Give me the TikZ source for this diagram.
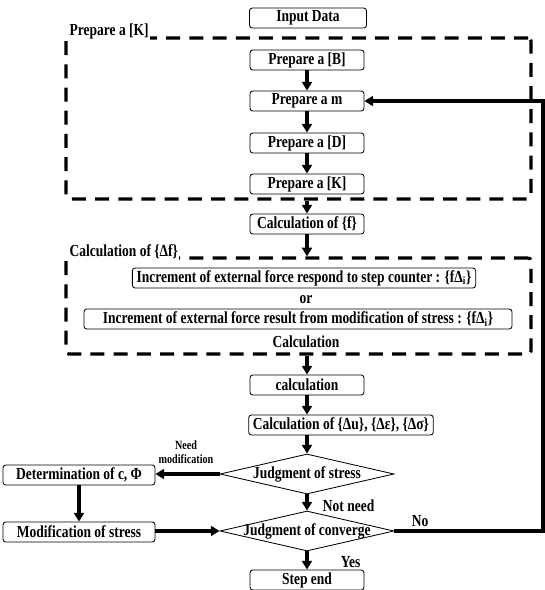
\documentclass[tikz,border=0pt]{standalone}
\usepackage{fontspec}
\setmainfont{Liberation Serif}[FakeStretch=0.8]
\usetikzlibrary{arrows.meta,shapes.geometric,fit}

\begin{document}
\begin{tikzpicture}[x=0.25mm,y=-0.25mm]
        \tikzset{every node/.style={font=\fontsize{12}{13}\selectfont\bfseries},
          stepbox/.style={draw, rounded corners=2pt, line width=0.6pt, minimum width=28.5mm, minimum height=5mm, inner xsep=3pt, inner ysep=1pt},
          judge/.style={draw, diamond, line width=0.6pt, aspect=4.35, inner xsep=-12mm, inner ysep=0pt, minimum width=43.5mm, minimum height=10mm},
          groupbox/.style={draw, line width=2.3pt, rounded corners=2pt, dash pattern=on 3.5mm off 2.3mm, inner sep=0pt},
          grouplabel/.style={fill=white, inner sep=1pt, anchor=base west},
          flow/.style={-{Triangle[length=2.2mm, width=2.5mm]}, line width=2.2pt}}
        \useasboundingbox (0,0) rectangle (545,590);
        
        % input and preparation of [K]
        \node[stepbox, minimum width=29.25mm] (input) at (308,18) {Input Data};
        \coordinate (k1) at (66,38);
        \coordinate (k2) at (531,199);
        \node[groupbox, fit=(k1)(k2)] (grpK) {};
        \node[grouplabel] (lblK) at (68,36) {Prepare a [K]};
        \node[stepbox] (pB) at (307,60) {Prepare a [B]};
        \node[stepbox] (pm) at (307,101) {Prepare a m};
        \node[stepbox] (pD) at (307,143) {Prepare a [D]};
        \node[stepbox] (pK) at (307,184) {Prepare a [K]};
        \draw[flow] (pB) -- (pm);
        \draw[flow] (pm) -- (pD);
        \draw[flow] (pD) -- (pK);
        
        % calculation of {f} and {Δf}
        \node[stepbox] (calcf) at (307,224) {Calculation of \{f\}};
        \coordinate (f1) at (66,258);
        \coordinate (f2) at (531,354);
        \node[groupbox, fit=(f1)(f2)] (grpF) {};
        \node[grouplabel] (lblF) at (68,256) {Calculation of \{Δf\}};
        \node[stepbox, minimum width=85mm] (incA) at (304,278) {Increment of external force respond to step counter : \{fΔ\textsubscript{i}\}};
        \node (orlbl) at (306,300) {or};
        \node[stepbox, minimum width=107mm] (incB) at (298,319) {Increment of external force result from modification of stress : \{fΔ\textsubscript{i}\}};
        \node (calclbl) at (306,342) {Calculation};
        \draw[flow] (calcf.north |- grpK.south) -- (calcf);
        \draw[flow] (calcf) -- (calcf.south |- grpF.north);
        
        % solution and judgment
        \node[stepbox] (calc) at (307,385) {calculation};
        \node[stepbox, minimum width=39.75mm] (calcdu) at (341,425) {Calculation of \{Δu\}, \{Δε\}, \{Δσ\}};
        \node[judge] (jstress) at (307,474) {Judgment of stress};
        \node[stepbox, minimum width=38mm] (detc) at (79,475) {Determination of c, Φ};
        \node[judge] (jconv) at (307,531) {Judgment of converge};
        \node[stepbox, minimum width=38mm] (mods) at (79,532) {Modification of stress};
        \node[stepbox] (stepend) at (307,580) {Step end};
        \node[font=\fontsize{9}{10}\selectfont\bfseries, align=center] (needlbl) at (186,452) {Need\\modification};
        \node[anchor=west] (notlbl) at (318,506) {Not need};
        \node[anchor=west] (yeslbl) at (336,562) {Yes};
        \node (nolbl) at (420,521) {No};
        \coordinate (back) at (543,531);
        \draw[flow] (calc.north |- grpF.south) -- (calc);
        \draw[flow] (calc) -- (calc.south |- calcdu.north);
        \draw[flow] (calc.south |- calcdu.south) -- (jstress);
        \draw[flow] (jstress) -- (jconv);
        \draw[flow] (jconv) -- (stepend);
        \draw[flow] (jstress.west) -- (jstress.west -| detc.east);
        \draw[flow] (detc) -- (mods);
        \draw[flow] (mods.east |- jconv.west) -- (jconv.west);
        \draw[flow] (jconv.east) -- (back) |- (pm.east);
\end{tikzpicture}
\end{document}
